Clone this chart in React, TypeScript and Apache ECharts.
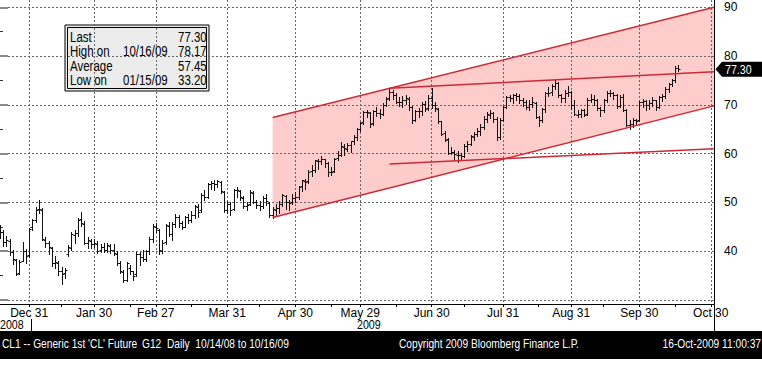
import React, { useEffect, useRef } from "react";
import * as echarts from "echarts";

const FONT = "'Liberation Sans', Arial, sans-serif";
const NARROW = 0.82;

// trading days shown on the axis (month -> day numbers)
const tradingDays: [string, number[]][] = [
  ["2008-12", [17, 18, 19, 22, 23, 24, 26, 29, 30, 31]],
  ["2009-01", [2, 5, 6, 7, 8, 9, 12, 13, 14, 15, 16, 20, 21, 22, 23, 26, 27, 28, 29, 30]],
  ["2009-02", [2, 3, 4, 5, 6, 9, 10, 11, 12, 13, 17, 18, 19, 20, 23, 24, 25, 26, 27]],
  ["2009-03", [2, 3, 4, 5, 6, 9, 10, 11, 12, 13, 16, 17, 18, 19, 20, 23, 24, 25, 26, 27, 30, 31]],
  ["2009-04", [1, 2, 3, 6, 7, 8, 9, 13, 14, 15, 16, 17, 20, 21, 22, 23, 24, 27, 28, 29, 30]],
  ["2009-05", [1, 4, 5, 6, 7, 8, 11, 12, 13, 14, 15, 18, 19, 20, 21, 22, 26, 27, 28, 29]],
  ["2009-06", [1, 2, 3, 4, 5, 8, 9, 10, 11, 12, 15, 16, 17, 18, 19, 22, 23, 24, 25, 26, 29, 30]],
  ["2009-07", [1, 2, 6, 7, 8, 9, 10, 13, 14, 15, 16, 17, 20, 21, 22, 23, 24, 27, 28, 29, 30, 31]],
  ["2009-08", [3, 4, 5, 6, 7, 10, 11, 12, 13, 14, 17, 18, 19, 20, 21, 24, 25, 26, 27, 28, 31]],
  ["2009-09", [1, 2, 3, 4, 8, 9, 10, 11, 14, 15, 16, 17, 18, 21, 22, 23, 24, 25, 28, 29, 30]],
  ["2009-10", [1, 2, 5, 6, 7, 8, 9, 12, 13, 14, 15, 16, 19, 20, 21, 22, 23, 26, 27, 28, 29, 30]],
  ["2009-11", [2]],
];

const opens = [
  44.5, 43.9, 41.8, 42.0, 39.8, 38.3, 35.6, 38.0, 40.0, 39.2,
  44.9, 46.5, 48.6, 48.4, 42.4, 41.6, 40.6, 37.5, 37.6, 36.0,
  35.5, 39.5, 40.6, 43.4, 43.8, 46.6, 45.6, 41.6, 42.1, 41.4,
  41.5, 40.2, 40.9, 40.3, 41.1, 40.3, 39.5, 37.6, 35.8, 34.2,
  36.5, 35.9, 35.3, 39.4, 38.9, 38.5, 40.0, 42.5, 45.0, 44.3,
  40.1, 41.8, 45.2, 43.5, 45.6, 47.0, 45.8, 45.0, 47.0, 46.5,
  47.4, 49.0, 48.5, 51.6, 51.2, 53.8, 53.9, 53.8, 54.2, 52.2,
  48.4, 49.6, 48.6, 52.5, 52.4, 51.0, 49.2, 49.6, 52.0, 50.0,
  49.4, 49.3, 51.0, 49.8, 47.5, 48.5, 48.9, 49.7, 51.4, 50.0,
  50.0, 51.0, 51.2, 53.3, 54.4, 54.4, 56.4, 56.7, 58.4, 58.5,
  58.9, 58.0, 56.3, 56.5, 59.1, 59.7, 61.4, 61.0, 61.7, 62.5,
  63.5, 65.1, 66.4, 68.5, 68.4, 66.2, 68.8, 68.4, 68.1, 70.0,
  71.4, 72.6, 72.0, 70.6, 70.5, 71.0, 71.3, 69.5, 67.0, 68.7,
  68.7, 70.2, 69.3, 71.4, 69.9, 69.2, 66.6, 64.2, 63.0, 60.2,
  60.4, 59.8, 59.7, 59.6, 61.5, 62.0, 63.5, 64.0, 64.6, 65.4,
  67.2, 68.0, 68.3, 67.2, 63.5, 67.0, 69.6, 71.6, 71.4, 72.0,
  71.9, 70.9, 70.6, 69.5, 70.2, 70.4, 67.5, 66.8, 69.2, 72.4,
  72.6, 73.9, 74.4, 72.0, 71.4, 72.5, 72.6, 70.0, 68.0, 68.1,
  68.9, 68.1, 71.1, 71.3, 70.9, 69.3, 68.9, 71.0, 72.5, 72.4,
  72.0, 69.7, 71.6, 69.0, 65.9, 66.1, 66.8, 66.8, 70.5, 70.8,
  69.9, 70.4, 70.9, 69.6, 71.7, 71.8, 73.3, 74.2, 75.2, 77.6,
];
const highs = [
  45.3, 44.3, 43.2, 42.6, 40.2, 38.5, 38.2, 41.8, 40.4, 44.8,
  46.6, 49.0, 50.5, 48.8, 43.0, 42.0, 40.9, 39.0, 37.9, 36.8,
  36.6, 41.2, 44.0, 44.3, 46.9, 48.1, 46.2, 43.0, 42.5, 42.6,
  42.1, 41.5, 41.6, 41.7, 41.4, 41.5, 40.0, 37.9, 36.2, 37.7,
  37.2, 36.0, 39.9, 39.9, 40.3, 40.3, 42.9, 45.5, 45.8, 44.5,
  42.4, 45.5, 46.0, 46.0, 47.7, 47.4, 46.2, 47.3, 47.7, 48.2,
  49.4, 49.6, 52.0, 52.6, 54.0, 54.4, 54.7, 54.7, 54.4, 52.3,
  50.3, 50.0, 52.7, 53.1, 52.6, 51.3, 50.0, 52.5, 52.3, 50.6,
  50.2, 51.3, 51.8, 50.1, 49.0, 49.6, 50.2, 51.8, 51.5, 50.5,
  51.7, 52.1, 53.4, 54.6, 54.8, 56.6, 57.6, 58.8, 58.9, 59.6,
  59.0, 58.2, 57.3, 59.2, 60.5, 62.3, 62.0, 62.1, 62.6, 63.9,
  65.2, 66.5, 68.7, 69.0, 68.6, 69.0, 69.6, 69.2, 70.3, 71.7,
  73.2, 73.1, 72.4, 71.6, 71.8, 72.0, 71.6, 69.7, 69.0, 69.4,
  70.5, 70.7, 72.0, 73.4, 70.5, 69.3, 66.7, 64.7, 63.2, 61.3,
  60.7, 60.6, 60.2, 62.0, 62.5, 63.8, 64.5, 65.3, 66.0, 67.7,
  68.5, 69.0, 68.5, 67.5, 67.4, 69.8, 71.9, 72.0, 72.3, 72.4,
  72.2, 71.5, 71.0, 70.9, 71.6, 70.6, 67.8, 69.4, 72.6, 73.6,
  74.2, 75.0, 74.6, 72.3, 73.0, 73.8, 72.8, 71.1, 69.0, 69.1,
  69.1, 71.4, 72.2, 72.0, 71.3, 69.5, 71.2, 72.8, 73.1, 72.7,
  72.2, 72.0, 72.2, 69.1, 66.9, 67.4, 67.2, 70.7, 71.2, 71.0,
  70.9, 71.6, 71.1, 71.9, 72.3, 73.6, 74.4, 75.3, 77.9, 78.17,
];
const lows = [
  42.8, 41.1, 41.0, 39.3, 37.4, 35.1, 35.4, 37.9, 37.5, 38.8,
  44.3, 45.9, 47.8, 42.4, 40.9, 39.5, 37.0, 36.6, 35.2, 33.2,
  34.6, 39.0, 40.3, 41.6, 43.2, 45.2, 41.4, 40.7, 40.6, 40.8,
  39.7, 39.8, 39.8, 39.9, 39.7, 39.2, 37.2, 35.6, 33.6, 33.9,
  35.3, 34.0, 35.0, 37.2, 38.0, 37.9, 39.5, 41.9, 43.9, 39.4,
  39.6, 41.5, 43.1, 42.4, 44.9, 45.0, 44.6, 44.9, 45.8, 45.9,
  46.8, 47.0, 48.0, 50.4, 51.0, 52.7, 52.5, 53.1, 51.9, 48.0,
  47.9, 47.5, 48.4, 51.2, 50.6, 48.9, 48.4, 49.4, 49.8, 48.8,
  48.5, 48.9, 49.5, 47.0, 46.9, 47.4, 47.9, 49.2, 48.7, 48.5,
  49.7, 50.0, 50.7, 52.3, 52.8, 54.0, 55.4, 56.3, 56.9, 57.9,
  57.2, 55.5, 55.6, 56.2, 58.6, 59.5, 59.8, 60.5, 60.4, 62.0,
  62.7, 64.6, 66.1, 67.5, 65.5, 65.8, 67.8, 67.4, 67.9, 69.8,
  71.0, 71.3, 70.4, 69.7, 69.5, 70.1, 69.0, 66.3, 66.7, 67.5,
  67.9, 68.8, 69.0, 69.3, 68.7, 66.3, 63.9, 62.6, 60.0, 59.9,
  58.8, 58.3, 58.8, 59.4, 60.6, 61.8, 62.9, 63.6, 63.9, 65.0,
  66.4, 67.4, 66.4, 62.7, 63.0, 66.7, 69.3, 70.7, 70.4, 71.0,
  70.4, 69.8, 69.2, 68.9, 69.6, 67.4, 65.6, 66.4, 68.5, 71.8,
  72.1, 73.3, 71.7, 70.6, 70.6, 71.9, 69.2, 67.9, 67.5, 67.6,
  67.8, 67.9, 70.5, 70.0, 69.0, 67.8, 68.6, 70.6, 71.8, 71.2,
  69.4, 69.6, 68.8, 65.7, 65.1, 65.5, 65.9, 66.7, 69.6, 69.0,
  69.1, 69.8, 68.9, 69.4, 70.8, 71.5, 72.7, 73.8, 74.6, 76.9,
];
const closes = [
  43.9, 41.8, 42.4, 39.9, 38.5, 35.4, 37.7, 40.0, 39.0, 44.6,
  46.3, 48.5, 48.6, 42.6, 41.7, 40.8, 37.6, 37.8, 36.0, 35.4,
  36.2, 40.8, 43.5, 43.7, 46.5, 45.7, 41.6, 42.2, 41.4, 41.7,
  40.1, 40.8, 40.3, 41.2, 40.2, 39.6, 37.6, 35.9, 34.0, 37.5,
  35.9, 34.9, 39.5, 38.9, 38.4, 40.0, 42.5, 45.2, 44.8, 40.2,
  41.7, 45.4, 43.6, 45.5, 47.1, 45.7, 45.0, 47.0, 46.3, 47.4,
  49.2, 48.1, 51.6, 51.1, 53.8, 54.0, 53.8, 54.3, 52.4, 48.4,
  49.7, 48.4, 52.6, 52.5, 51.1, 49.2, 49.4, 52.2, 50.1, 49.4,
  49.3, 51.0, 50.3, 47.4, 48.6, 48.9, 49.6, 51.6, 50.1, 49.9,
  51.0, 51.1, 53.2, 54.5, 54.2, 56.3, 56.7, 58.6, 58.5, 58.9,
  58.0, 56.3, 56.3, 59.0, 59.7, 61.5, 61.1, 61.7, 62.5, 63.5,
  65.1, 66.3, 68.6, 68.6, 66.1, 68.8, 68.4, 68.1, 70.0, 71.3,
  72.7, 72.0, 70.6, 70.5, 71.0, 71.4, 69.6, 66.9, 68.7, 68.7,
  70.2, 69.2, 71.5, 69.9, 69.3, 66.7, 64.1, 62.9, 60.1, 60.4,
  59.9, 59.7, 59.5, 61.5, 62.0, 63.6, 64.0, 64.7, 65.4, 67.2,
  68.1, 68.4, 67.2, 63.4, 66.9, 69.5, 71.6, 71.4, 72.0, 71.9,
  70.9, 70.6, 69.5, 70.2, 70.5, 67.5, 66.8, 69.2, 72.4, 72.5,
  73.9, 74.4, 72.1, 71.4, 72.5, 72.7, 70.0, 68.1, 68.1, 69.0,
  68.0, 71.1, 71.3, 70.9, 69.3, 68.9, 70.9, 72.5, 72.5, 72.0,
  69.7, 71.6, 69.0, 65.9, 66.0, 66.8, 66.7, 70.6, 70.8, 70.0,
  70.4, 70.9, 69.6, 71.7, 71.8, 73.3, 74.2, 75.2, 77.6, 77.3,
];

// trend channel & lines (start date, end date, start value, end value)
const channelDates = ["2009-04-21", "2009-11-02"];
const channelUpper = [67.4, 90.0];
const channelLower = [46.9, 69.8];
const trendDates = ["2009-06-11", "2009-11-02"];
const resistance = [73.4, 76.8];
const support = [57.9, 61.0];

const yTicks = [30, 40, 50, 60, 70, 80, 90];
const lastValue = 77.3;

const statLabels = ["Last", "High on", "Average", "Low on"];
const statDates = ["", "10/16/09", "", "01/15/09"];
const statValues = [77.3, 78.17, 57.45, 33.2];

const yearLabels = ["2008", "2009"];
const footerTexts = [
  "CL1 -- Generic 1st 'CL' Future",
  "G12",
  "Daily  10/14/08 to 10/16/09",
  "Copyright 2009 Bloomberg Finance L.P.",
  "16-Oct-2009 11:00:37",
];

const monthNames = ["Jan", "Feb", "Mar", "Apr", "May", "Jun", "Jul", "Aug", "Sep", "Oct", "Nov", "Dec"];

const dates: string[] = tradingDays.flatMap(([m, ds]) =>
  ds.map((d) => `${m}-${String(d).padStart(2, "0")}`)
);

const isMonthEnd = (i: number) =>
  i < dates.length - 1 && dates[i].slice(0, 7) !== dates[i + 1].slice(0, 7);
const isMid = (i: number) => {
  if (i === 0) return false;
  const d = Number(dates[i].slice(8));
  const prevSameMonth = dates[i - 1].slice(0, 7) === dates[i].slice(0, 7);
  const pd = Number(dates[i - 1].slice(8));
  return d >= 15 && (!prevSameMonth || pd < 15);
};
const fmtDate = (v: string) => `${monthNames[Number(v.slice(5, 7)) - 1]} ${Number(v.slice(8))}`;

const narrowText = (text: string, x: number, y: number, size: number, fill: string, align: string, z = 100) => ({
  type: "text",
  z,
  x,
  y,
  scaleX: NARROW,
  style: { text, font: `${size}px ${FONT}`, fill, verticalAlign: "middle", align },
});

export default function App() {
  const ref = useRef<HTMLDivElement>(null);
  useEffect(() => {
    if (!ref.current) return;
    const chart = echarts.init(ref.current, null, { renderer: "svg" });

    const ohlc = closes.map((c, i) => [i, opens[i], highs[i], lows[i], c]);
    const ci0 = dates.indexOf(channelDates[0]);
    const ci1 = dates.indexOf(channelDates[1]);
    const ti0 = dates.indexOf(trendDates[0]);
    const ti1 = dates.indexOf(trendDates[1]);
    const lineRows = [
      [ci0, channelUpper[0], ci1, channelUpper[1]],
      [ci0, channelLower[0], ci1, channelLower[1]],
      [ti0, resistance[0], ti1, resistance[1]],
      [ti0, support[0], ti1, support[1]],
    ];

    const option: any = {
      animation: false,
      backgroundColor: "#ffffff",
      grid: [
        { left: 0, right: 48, top: 0, height: 304 },
        { left: 0, right: 48, top: 7.3, height: 292.7 },
      ],
      xAxis: [
        {
          type: "category",
          gridIndex: 0,
          data: dates,
          boundaryGap: false,
          z: 3,
          axisLine: { show: true, lineStyle: { color: "#000", width: 1 } },
          axisTick: {
            show: true,
            interval: (i: number) => isMonthEnd(i) || isMid(i),
            length: 3,
            lineStyle: { color: "#000" },
          },
          axisLabel: {
            interval: (i: number) => isMonthEnd(i),
            formatter: (v: string) => fmtDate(v),
            color: "#000",
            fontFamily: FONT,
            fontSize: 12,
            margin: 3,
          },
          splitLine: {
            show: true,
            interval: (i: number) => isMonthEnd(i),
            lineStyle: { color: "#666", width: 1, type: [2, 2] },
          },
        },
        { type: "value", gridIndex: 1, show: false, min: 0, max: 1 },
      ],
      yAxis: [
        {
          type: "value",
          gridIndex: 0,
          min: 29.18,
          max: 91.5,
          position: "right",
          z: 3,
          axisLine: { show: true, lineStyle: { color: "#000", width: 1 } },
          axisTick: { show: false },
          axisLabel: { show: false },
          splitLine: { show: false },
        },
        {
          type: "value",
          gridIndex: 1,
          min: yTicks[0],
          max: yTicks[yTicks.length - 1],
          interval: 10,
          position: "right",
          z: 3,
          axisLine: { show: false },
          axisTick: { show: true, length: 8, lineStyle: { color: "#8a8a8a", width: 2 } },
          minorTick: { show: true, splitNumber: 2, length: 3, lineStyle: { color: "#333", width: 1 } },
          axisLabel: {
            formatter: (v: number) => (v === yTicks[0] ? "" : String(v)),
            color: "#000",
            fontFamily: FONT,
            fontSize: 12,
            margin: 10,
          },
          splitLine: { show: true, lineStyle: { color: "#666", width: 1, type: [2, 2] } },
        },
      ],
      series: [
        {
          type: "custom",
          xAxisIndex: 0,
          yAxisIndex: 0,
          z: 1,
          silent: true,
          data: [[ci0, channelLower[0]]],
          renderItem: (_p: any, api: any) => {
            const a = api.coord([ci0, channelUpper[0]]);
            const b = api.coord([ci1, channelUpper[1]]);
            const c = api.coord([ci1, channelLower[1]]);
            const d = api.coord([ci0, channelLower[0]]);
            return {
              type: "polygon",
              shape: { points: [a, b, c, d] },
              style: { fill: "#ffcccc", stroke: "none" },
            };
          },
        },
        {
          type: "custom",
          xAxisIndex: 0,
          yAxisIndex: 0,
          z: 5,
          silent: true,
          data: ohlc,
          encode: { x: 0, y: [1, 2, 3, 4] },
          renderItem: (_p: any, api: any) => {
            const i = api.value(0);
            const pO = api.coord([i, api.value(1)]);
            const pH = api.coord([i, api.value(2)]);
            const pL = api.coord([i, api.value(3)]);
            const pC = api.coord([i, api.value(4)]);
            const x = Math.round(pH[0]) + 0.5;
            const yo = Math.round(pO[1]) + 0.5;
            const yc = Math.round(pC[1]) + 0.5;
            const st = { stroke: "#111", lineWidth: 1 };
            return {
              type: "group",
              children: [
                { type: "line", shape: { x1: x, y1: Math.round(pH[1]), x2: x, y2: Math.round(pL[1]) + 1 }, style: st },
                { type: "line", shape: { x1: x - 2, y1: yo, x2: x, y2: yo }, style: st },
                { type: "line", shape: { x1: x, y1: yc, x2: x + 2, y2: yc }, style: st },
              ],
            };
          },
        },
        {
          type: "custom",
          xAxisIndex: 0,
          yAxisIndex: 0,
          z: 6,
          silent: true,
          data: lineRows,
          renderItem: (_p: any, api: any) => {
            const p1 = api.coord([api.value(0), api.value(1)]);
            const p2 = api.coord([api.value(2), api.value(3)]);
            return {
              type: "line",
              shape: { x1: p1[0], y1: p1[1], x2: p2[0], y2: p2[1] },
              style: { stroke: "#cc2a36", lineWidth: 1.5 },
            };
          },
        },
      ],
    };
    chart.setOption(option);

    const xDec31 = chart.convertToPixel({ xAxisIndex: 0 }, "2008-12-31") as number;
    const xJan2 = chart.convertToPixel({ xAxisIndex: 0 }, "2009-01-02") as number;
    const yLast = chart.convertToPixel({ yAxisIndex: 0 }, lastValue) as number;
    const sepX = Math.round((xDec31 + xJan2) / 2) + 0.5;

    const boxX = 65, boxY = 25, boxW = 144, boxH = 66;
    const rowY = [37, 51.5, 66, 80.5];
    const legendChildren: any[] = [
      { type: "rect", shape: { x: boxX, y: boxY, width: boxW, height: boxH }, style: { fill: "#ececec", stroke: "#000", lineWidth: 1 } },
      { type: "rect", shape: { x: boxX + 2.5, y: boxY + 2.5, width: boxW - 5, height: boxH - 5 }, style: { fill: "none", stroke: "#000", lineWidth: 1 } },
    ];
    statLabels.forEach((lab, k) => {
      legendChildren.push(narrowText(lab, boxX + 5, rowY[k], 14, "#000", "left"));
      if (statDates[k]) legendChildren.push(narrowText(statDates[k], boxX + 58, rowY[k], 14, "#000", "left"));
      legendChildren.push(narrowText(statValues[k].toFixed(2), boxX + 113, rowY[k], 14, "#000", "left"));
    });

    const footerX = [2, 142, 167, 399, 761];
    const footerAlign = ["left", "left", "left", "left", "right"];

    chart.setOption({
      graphic: [
        { type: "group", z: 100, children: legendChildren },
        {
          type: "polygon",
          z: 100,
          shape: { points: [[715.5, yLast], [722, yLast - 7.5], [762, yLast - 7.5], [762, yLast + 7.5], [722, yLast + 7.5]] },
          style: { fill: "#000" },
        },
        narrowText(lastValue.toFixed(2), 725, yLast, 13, "#fff", "left", 101),
        { type: "line", z: 100, shape: { x1: 714.5, y1: 304, x2: 714.5, y2: 331 }, style: { stroke: "#000", lineWidth: 1 } },
        { type: "line", z: 100, shape: { x1: sepX, y1: 319, x2: sepX, y2: 331 }, style: { stroke: "#000", lineWidth: 1 } },
        narrowText(yearLabels[0], 0, 325, 13, "#000", "left"),
        narrowText(yearLabels[1], 357, 325, 13, "#000", "left"),
        { type: "rect", z: 100, shape: { x: 0, y: 331, width: 762, height: 28 }, style: { fill: "#000" } },
        ...footerTexts.map((t, k) => ({
          ...narrowText(t, footerX[k], 344, 12, "#fff", footerAlign[k], 101),
          scaleX: 0.85,
        })),
      ],
    });

    return () => chart.dispose();
  }, []);

  return (
    <div
      ref={ref}
      style={{ position: "fixed", left: 0, top: 0, width: 762, height: 366, background: "#fff" }}
    />
  );
}
